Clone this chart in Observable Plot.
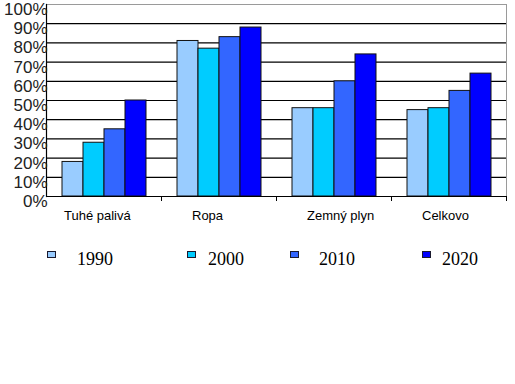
<!DOCTYPE html>
<html><head><meta charset="utf-8">
<script src="https://cdn.jsdelivr.net/npm/d3@7"></script>
<script src="https://cdn.jsdelivr.net/npm/@observablehq/plot@0.6"></script>
<style>
body{margin:0;background:#fff;}
#wrap{position:relative;width:515px;height:384px;overflow:hidden;}
#wrap svg{position:absolute;left:0;top:0;}
.sw{position:absolute;width:7px;height:5px;border:1px solid #1a1a2e;}
.lt{position:absolute;font-family:"Liberation Serif","Times New Roman",serif;font-size:18px;line-height:18px;color:#000;}
</style></head><body><div id="wrap"></div>
<script>
const categories = ["Tuhé palivá", "Ropa", "Zemný plyn", "Celkovo"];
const years = ["1990", "2000", "2010", "2020"];
const v1990 = [18, 81, 46, 45];
const v2000 = [28, 77, 46, 46];
const v2010 = [35, 83, 60, 55];
const v2020 = [50, 88, 74, 64];
const colors = ["#99ccff", "#00ccff", "#3366ff", "#0000ff"];
const yTicks = [0, 10, 20, 30, 40, 50, 60, 70, 80, 90, 100];

const series = [v1990, v2000, v2010, v2020];
const data = [];
categories.forEach((c, i) => years.forEach((y, j) => data.push({category: c, year: y, value: series[j][i]})));

const chart = Plot.plot({
  width: 515, height: 235,
  marginTop: 4, marginBottom: 39, marginLeft: 45, marginRight: 8,
  style: {fontFamily: "'Liberation Sans', Arial, sans-serif", background: "transparent"},
  fx: {domain: categories, padding: 0, axis: null},
  x: {domain: years, paddingInner: 0, paddingOuter: 0.72, axis: null},
  y: {domain: [0, 100], axis: null},
  color: {domain: years, range: colors},
  marks: [
    Plot.ruleY(yTicks.filter(t => t > 0 && t < 100), {stroke: "#000", strokeWidth: 1.2}),
    Plot.ruleY([100], {stroke: "#9a9a9a", strokeWidth: 1}),
    Plot.frame({anchor: "right", facetAnchor: "right", stroke: "#9a9a9a"}),
    Plot.barY(data, {fx: "category", x: "year", y: "value", fill: "year", stroke: "#111", strokeWidth: 1}),
    Plot.ruleY([0], {stroke: "#000", strokeWidth: 1.2}),
    Plot.frame({anchor: "left", facetAnchor: "left", stroke: "#000", strokeWidth: 1.2}),
    Plot.frame({anchor: "right", stroke: "#000", insetTop: 192, insetBottom: -4}),
    Plot.axisY({ticks: yTicks, tickFormat: d => d + "%", tickSize: 0, tickPadding: -1, fontSize: 17, dy: 5, label: null, facetAnchor: "left", fill: "#222"}),
    Plot.text(categories.slice(0, 1), {fx: d => d, text: d => d, frameAnchor: "bottom", dy: 23, dx: -40, textAnchor: "start", fontSize: 13, fill: "#000"}),
    Plot.text(categories.slice(1), {fx: d => d, text: d => d, frameAnchor: "bottom", dy: 23, dx: -27, textAnchor: "start", fontSize: 13, fill: "#000"})
  ]
});
const wrap = document.getElementById("wrap");
wrap.appendChild(chart);

const swX = [47, 187, 290, 422];
const txX = [77, 208, 319, 442];
years.forEach((y, i) => {
  const s = document.createElement("div");
  s.className = "sw";
  s.style.left = swX[i] + "px";
  s.style.top = "251px";
  s.style.background = colors[i];
  wrap.appendChild(s);
  const t = document.createElement("div");
  t.className = "lt";
  t.style.left = txX[i] + "px";
  t.style.top = "250px";
  t.textContent = y;
  wrap.appendChild(t);
});
</script></body></html>
